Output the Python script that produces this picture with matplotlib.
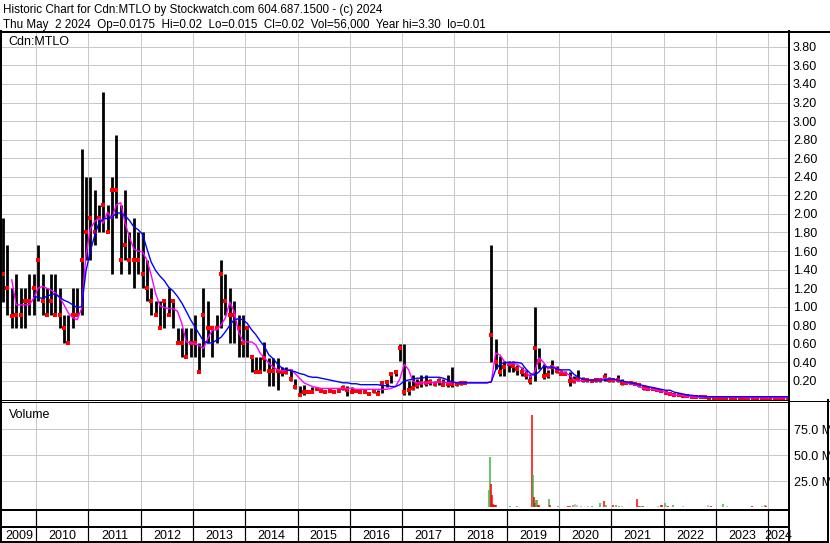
import numpy as np
import pandas as pd
import matplotlib
matplotlib.use("Agg")
import matplotlib.pyplot as plt
import matplotlib.dates as mdates
from matplotlib.lines import Line2D
from datetime import datetime

nan = np.nan

# monthly bars May 2009 .. May 2024, one row per calendar year
HIGH = [
    1.96, 1.66, 1.20, 1.35, 1.20, 1.20, 1.35, 1.35,
    1.66, 1.35, 1.20, 1.35, 1.35, 1.20, 0.91, 0.91, 1.20, 1.20, 2.70, 2.40,
    2.40, 2.26, 2.10, 3.31, 2.10, 2.40, 2.85, 2.10, 2.26, 1.81, 1.96, 1.81,
    1.81, 1.50, 1.20, 1.06, 1.06, 1.06, 1.20, 1.06, 0.77, 0.77, 0.77, 0.77,
    0.91, 0.61, 1.20, 1.06, 0.77, 0.91, 1.50, 1.35, 1.20, 1.06, 0.91, 0.91,
    0.77, 0.46, 0.46, 0.46, 0.62, 0.45, 0.45, 0.45, 0.35, 0.35, 0.33, 0.22,
    0.15, 0.16, 0.10, 0.13, 0.13, 0.12, 0.10, 0.11, 0.10, 0.10, 0.16, 0.15,
    0.14, 0.10, 0.10, 0.09, 0.08, 0.10, 0.10, 0.19, 0.20, 0.30, 0.32, 0.60,
    0.60, 0.20, 0.26, 0.22, 0.26, 0.26, 0.22, 0.20, 0.23, 0.22, 0.26, 0.35,
    0.19, 0.19, 0.19, nan, nan, nan, nan, nan, 1.67, 0.65, 0.47, 0.42,
    0.42, 0.42, 0.37, 0.35, 0.32, 0.27, 1.00, 0.55, 0.38, 0.32, 0.43, 0.36,
    0.32, 0.31, 0.30, 0.25, 0.32, 0.24, 0.23, 0.22, 0.22, 0.22, 0.29, 0.24,
    0.23, 0.26, 0.22, 0.20, 0.20, 0.19, 0.18, 0.16, 0.13, 0.13, 0.12, 0.11,
    0.09, 0.08, 0.06, 0.05, 0.05, 0.04, 0.04, 0.035, 0.03, 0.03, 0.03, 0.03,
    0.025, 0.03, 0.025, 0.025, 0.025, 0.03, 0.025, 0.025, 0.02, 0.025, 0.02, 0.025,
    0.035, 0.03, 0.025, 0.025, 0.02,
]
LOW = [
    1.05, 0.91, 0.77, 0.77, 0.77, 0.77, 0.91, 0.91,
    1.06, 0.91, 0.91, 0.91, 0.91, 0.77, 0.61, 0.61, 0.77, 0.91, 0.91, 1.50,
    1.50, 1.66, 1.81, 1.81, 1.81, 1.35, 1.96, 1.35, 1.50, 1.35, 1.20, 1.35,
    1.20, 1.06, 0.91, 0.91, 0.77, 0.77, 0.91, 0.77, 0.61, 0.46, 0.46, 0.46,
    0.46, 0.30, 0.46, 0.61, 0.46, 0.61, 0.77, 0.91, 0.61, 0.61, 0.46, 0.46,
    0.46, 0.30, 0.30, 0.30, 0.31, 0.15, 0.15, 0.10, 0.25, 0.28, 0.20, 0.11,
    0.04, 0.05, 0.07, 0.07, 0.10, 0.08, 0.07, 0.08, 0.08, 0.08, 0.10, 0.04,
    0.08, 0.08, 0.07, 0.07, 0.05, 0.07, 0.05, 0.07, 0.14, 0.18, 0.25, 0.42,
    0.05, 0.05, 0.10, 0.12, 0.14, 0.15, 0.16, 0.15, 0.16, 0.15, 0.14, 0.13,
    0.15, 0.16, 0.17, nan, nan, nan, nan, nan, 0.40, 0.33, 0.25, 0.25,
    0.30, 0.30, 0.26, 0.25, 0.22, 0.17, 0.20, 0.33, 0.22, 0.23, 0.28, 0.29,
    0.26, 0.26, 0.15, 0.18, 0.20, 0.19, 0.19, 0.19, 0.19, 0.19, 0.20, 0.19,
    0.19, 0.19, 0.16, 0.17, 0.17, 0.16, 0.14, 0.10, 0.10, 0.10, 0.09, 0.08,
    0.06, 0.06, 0.04, 0.04, 0.035, 0.03, 0.025, 0.025, 0.02, 0.02, 0.02, 0.015,
    0.015, 0.015, 0.015, 0.015, 0.015, 0.015, 0.015, 0.015, 0.015, 0.01, 0.01, 0.01,
    0.015, 0.015, 0.015, 0.015, 0.015,
]
CLOSE = [
    1.35, 1.20, 0.90, 0.91, 0.91, 1.06, 1.06, 1.20,
    1.50, 1.06, 0.91, 1.06, 0.91, 0.91, 0.77, 0.61, 0.91, 0.91, 1.50, 1.81,
    1.96, 1.81, 1.96, 2.10, 1.81, 2.26, 2.26, 1.50, 1.66, 1.50, 1.50, 1.50,
    1.35, 1.20, 1.06, 0.91, 0.77, 1.06, 0.91, 1.06, 0.61, 0.61, 0.46, 0.61,
    0.61, 0.30, 0.91, 0.77, 0.77, 0.77, 1.35, 1.06, 0.91, 0.91, 0.77, 0.61,
    0.77, 0.46, 0.30, 0.30, 0.45, 0.31, 0.31, 0.31, 0.30, 0.30, 0.22, 0.14,
    0.05, 0.08, 0.08, 0.08, 0.11, 0.09, 0.08, 0.09, 0.08, 0.09, 0.12, 0.10,
    0.08, 0.09, 0.08, 0.08, 0.06, 0.09, 0.06, 0.18, 0.19, 0.28, 0.30, 0.55,
    0.08, 0.10, 0.12, 0.16, 0.18, 0.18, 0.19, 0.17, 0.20, 0.16, 0.17, 0.17,
    0.17, 0.18, 0.18, nan, nan, nan, nan, nan, 0.70, 0.40, 0.30, 0.35,
    0.38, 0.36, 0.33, 0.30, 0.26, 0.20, 0.55, 0.42, 0.25, 0.26, 0.35, 0.31,
    0.28, 0.28, 0.20, 0.20, 0.22, 0.21, 0.21, 0.20, 0.21, 0.21, 0.24, 0.21,
    0.21, 0.21, 0.18, 0.18, 0.18, 0.17, 0.16, 0.12, 0.11, 0.11, 0.10, 0.09,
    0.07, 0.06, 0.05, 0.045, 0.04, 0.035, 0.03, 0.03, 0.025, 0.025, 0.02, 0.02,
    0.02, 0.02, 0.02, 0.02, 0.02, 0.02, 0.02, 0.02, 0.015, 0.015, 0.015, 0.015,
    0.02, 0.02, 0.02, 0.02, 0.02,
]
# short (magenta) and long (blue) moving averages, same months
MA_SHORT = [
    nan, nan, 1.29, 1.02, 1.02, 1.02, 1.02, 1.09,
    1.20, 1.22, 1.20, 1.18, 1.15, 1.10, 1.02, 0.93, 0.88, 0.86, 0.98, 1.55,
    1.84, 1.92, 1.95, 1.90, 2.02, 1.95, 2.10, 2.12, 1.90, 1.75, 1.62, 1.60,
    1.59, 1.50, 1.34, 1.14, 1.01, 0.99, 0.98, 0.98, 0.95, 0.82, 0.62, 0.61,
    0.60, 0.58, 0.55, 0.66, 0.75, 0.75, 0.80, 0.88, 1.05, 0.95, 0.73, 0.63,
    0.62, 0.62, 0.59, 0.50, 0.45, 0.39, 0.35, 0.32, 0.31, 0.32, 0.32, 0.28,
    0.23, 0.18, 0.16, 0.14, 0.13, 0.12, 0.12, 0.12, 0.12, 0.12, 0.12, 0.12,
    0.12, 0.11, 0.11, 0.11, 0.11, 0.11, 0.11, 0.11, 0.11, 0.12, 0.14, 0.22,
    0.38, 0.32, 0.20, 0.18, 0.18, 0.18, 0.19, 0.18, 0.19, 0.19, 0.18, 0.19,
    0.18, 0.18, 0.18, 0.18, 0.18, 0.18, 0.18, 0.18, 0.19, 0.50, 0.48, 0.41,
    0.38, 0.39, 0.38, 0.34, 0.30, 0.24, 0.30, 0.45, 0.40, 0.33, 0.36, 0.34,
    0.30, 0.29, 0.26, 0.21, 0.20, 0.21, 0.21, 0.21, 0.21, 0.21, 0.23, 0.22,
    0.21, 0.21, 0.20, 0.18, 0.17, 0.16, 0.14, 0.12, 0.11, 0.11, 0.10, 0.09,
    0.08, 0.06, 0.05, 0.045, 0.04, 0.035, 0.03, 0.025, 0.025, 0.025, 0.025, 0.025,
    0.025, 0.025, 0.025, 0.025, 0.025, 0.025, 0.025, 0.02, 0.02, 0.02, 0.02, 0.02,
    0.02, 0.02, 0.02, 0.02, 0.02,
]
MA_LONG = [
    nan, nan, nan, nan, nan, nan, nan, 1.11,
    1.10, 1.09, 1.11, 1.13, 1.14, 1.10, 1.07, 1.05, 1.02, 0.99, 1.00, 1.38,
    1.60, 1.77, 1.90, 1.95, 1.95, 1.96, 2.01, 2.01, 1.98, 1.93, 1.86, 1.83,
    1.78, 1.62, 1.48, 1.39, 1.33, 1.28, 1.21, 1.17, 1.11, 1.04, 0.95, 0.86,
    0.78, 0.70, 0.63, 0.61, 0.61, 0.64, 0.67, 0.73, 0.80, 0.86, 0.87, 0.86,
    0.82, 0.75, 0.70, 0.63, 0.57, 0.48, 0.44, 0.38, 0.34, 0.32, 0.31, 0.30,
    0.28, 0.27, 0.25, 0.24, 0.24, 0.23, 0.22, 0.21, 0.20, 0.19, 0.18, 0.18,
    0.17, 0.17, 0.16, 0.16, 0.16, 0.16, 0.16, 0.15, 0.15, 0.14, 0.14, 0.16,
    0.20, 0.21, 0.22, 0.23, 0.23, 0.24, 0.24, 0.24, 0.24, 0.23, 0.21, 0.19,
    0.18, 0.18, 0.18, 0.18, 0.18, 0.18, 0.18, 0.18, 0.19, 0.32, 0.38, 0.40,
    0.40, 0.40, 0.40, 0.39, 0.33, 0.28, 0.26, 0.30, 0.36, 0.35, 0.35, 0.33,
    0.32, 0.32, 0.32, 0.27, 0.24, 0.22, 0.21, 0.21, 0.21, 0.21, 0.21, 0.22,
    0.22, 0.21, 0.20, 0.19, 0.18, 0.17, 0.16, 0.15, 0.14, 0.13, 0.12, 0.11,
    0.10, 0.10, 0.08, 0.07, 0.06, 0.05, 0.045, 0.04, 0.035, 0.03, 0.03, 0.03,
    0.03, 0.03, 0.03, 0.03, 0.03, 0.03, 0.03, 0.03, 0.03, 0.03, 0.03, 0.03,
    0.03, 0.03, 0.03, 0.03, 0.03,
]

# weekly volume bars that are visible (millions of shares)
VOL_DATES = [
    "2018-09-01", "2018-09-08", "2018-09-15", "2018-09-22", "2018-09-29", "2018-10-06",
    "2018-10-13", "2018-10-20", "2019-01-22", "2019-03-14",
    "2019-06-29", "2019-07-06", "2019-07-13", "2019-07-20", "2019-07-27", "2019-08-03",
    "2019-08-10", "2019-08-17", "2019-10-26", "2019-11-02", "2019-12-24",
    "2020-03-07", "2020-03-18", "2020-04-10", "2020-04-25", "2020-05-08", "2020-06-03",
    "2020-07-20", "2020-08-15", "2020-10-12", "2020-11-13", "2020-11-25",
    "2021-01-15", "2021-01-30", "2021-02-20", "2021-03-14", "2021-06-27", "2021-07-13",
    "2021-07-28", "2021-08-10", "2021-11-25", "2021-12-10", "2021-12-20",
    "2022-01-12", "2022-01-20", "2022-02-01", "2022-03-10", "2022-05-18", "2022-11-08",
    "2022-11-25", "2023-02-20", "2023-03-22", "2023-09-07", "2023-11-16", "2023-12-10",
    "2023-12-18",
]
VOL_VALUES = [
    16.0, 47.8, 22.0, 11.5, 2.5, 2.0,
    2.0, 1.5, 0.6, 0.6,
    88.5, 30.8, 10.0, 4.0, 7.0, 6.7,
    2.0, 1.5, 7.7, 2.0, 0.6,
    1.0, 0.8, 1.5, 3.0, 1.8, 0.7,
    0.8, 0.8, 3.5, 5.8, 1.8,
    1.5, 1.5, 1.2, 0.6, 7.7, 1.2,
    1.2, 0.6, 1.2, 1.8, 2.0,
    3.5, 1.5, 1.2, 1.8, 0.8, 2.2,
    0.8, 2.6, 0.8, 1.2, 1.0, 2.2,
    0.8,
]
VOL_DIR = [
    "up", "up", "down", "down", "down", "down",
    "down", "down", "up", "up",
    "down", "up", "down", "down", "up", "up",
    "down", "down", "up", "down", "up",
    "down", "down", "up", "flat", "flat", "flat",
    "flat", "up", "up", "down", "up",
    "down", "up", "up", "flat", "down", "down",
    "up", "down", "flat", "down", "down",
    "up", "flat", "down", "up", "flat", "flat",
    "down", "up", "flat", "down", "flat", "up",
    "down",
]

YEARS = list(range(2009, 2025))
PRICE_TICKS = [0.20, 0.40, 0.60, 0.80, 1.00, 1.20, 1.40, 1.60, 1.80, 2.00,
               2.20, 2.40, 2.60, 2.80, 3.00, 3.20, 3.40, 3.60, 3.80]
VOL_TICKS = [25, 50, 75]

HEADER1 = "Historic Chart for Cdn:MTLO by Stockwatch.com 604.687.1500 - (c) 2024"
HEADER2 = "Thu May  2 2024  Op=0.0175  Hi=0.02  Lo=0.015  Cl=0.02  Vol=56,000  Year hi=3.30  lo=0.01"

plt.rcParams["font.family"] = "Liberation Sans"
plt.rcParams["font.size"] = 9

W, H = 830, 543
GRID = "#c8c8c8"
PX = 0.72  # one pixel in points at 100 dpi


def fx(x):
    return x / W


def fy(y):
    return 1 - y / H


months = pd.date_range("2009-05-01", periods=len(HIGH), freq="MS") + pd.Timedelta(days=14)
mx = mdates.date2num(months.to_pydatetime())
x0 = mdates.date2num(datetime(2009, 5, 8))
x1 = mdates.date2num(datetime(2024, 5, 18))
year_starts = [mdates.date2num(datetime(y, 1, 1)) for y in YEARS[1:]]

fig = plt.figure(figsize=(W / 100, H / 100), dpi=100)

# price pane
ax = fig.add_axes([fx(2), fy(400), 786 / W, 368 / H])
ax.vlines(mx, LOW, HIGH, color="black", lw=2.0)
ax.plot(mx, CLOSE, "s", color="red", ms=2.4, mew=0)
ax.plot(mx, MA_SHORT, color="#ff00ff", lw=1.0)
ax.plot(mx, MA_LONG, color="#0000ff", lw=1.0)
ax.set_xlim(x0, x1)
ax.set_ylim(-0.005, 3.96)
ax.set_yticks(PRICE_TICKS)
ax.set_yticklabels([f"{v:.2f}" for v in PRICE_TICKS])
ax.set_xticks(year_starts)
ax.set_xticklabels([])
ax.yaxis.tick_right()
ax.tick_params(length=0, pad=3.5, labelsize=9)
ax.grid(color=GRID, lw=PX)
ax.set_axisbelow(True)
for s in ax.spines.values():
    s.set_visible(False)
fig.text(fx(8), fy(45), "Cdn:MTLO", fontsize=9, va="baseline")

# volume pane
vax = fig.add_axes([fx(2), fy(509), 786 / W, 107 / H])
vd = mdates.date2num(pd.to_datetime(VOL_DATES).to_pydatetime())
cmap = {"up": "#44b444", "down": "#ff0000", "flat": "#b4b4b4"}
vax.vlines(vd, 0, VOL_VALUES, colors=[cmap[d] for d in VOL_DIR], lw=1.1)
vax.set_xlim(x0, x1)
vax.set_ylim(-1.9, 101)
vax.set_yticks(VOL_TICKS)
vax.set_yticklabels([f"{v:.1f} M" for v in VOL_TICKS])
vax.set_xticks(year_starts)
vax.set_xticklabels([])
vax.yaxis.tick_right()
vax.tick_params(length=0, pad=4, labelsize=9)
vax.grid(color=GRID, lw=PX)
vax.set_axisbelow(True)
for s in vax.spines.values():
    s.set_visible(False)
fig.text(fx(9), fy(418), "Volume", fontsize=9, va="baseline")

# date strip
dax = fig.add_axes([fx(2), fy(542), 786 / W, 33 / H])
dax.set_xlim(x0, x1)
dax.set_ylim(0, 33)
dax.vlines(year_starts, 0, 33, color="black", lw=PX * 1.2)
for y in YEARS:
    a = max(mdates.date2num(datetime(y, 1, 1)), x0)
    b = min(mdates.date2num(datetime(y + 1, 1, 1)), x1)
    dax.text((a + b) / 2, 3.2, str(y), ha="center", va="baseline", fontsize=9, clip_on=False)
dax.axis("off")

# header
fig.text(fx(3), fy(12.5), HEADER1, fontsize=8.4, va="baseline")
fig.text(fx(3), fy(28.3), HEADER2, fontsize=8.4, va="baseline")


def hline(y, a, b, lw=1.0):
    fig.add_artist(Line2D([fx(a), fx(b)], [fy(y), fy(y)], color="black", lw=lw * PX))


def vline(x, a, b, lw=1.0):
    fig.add_artist(Line2D([fx(x), fx(x)], [fy(a), fy(b)], color="black", lw=lw * PX))


hline(31.5, 0, 830, 2)
vline(1, 31, 543, 2)
vline(789, 31, 542, 2)
hline(399.5, 0, 789, 1)
hline(401.5, 0, 789, 1)
hline(400.5, 789, 830, 1)
hline(509.5, 0, 789, 2)
hline(527, 0, 789, 2)
hline(541.5, 0, 828, 2)
vline(827.5, 400, 542, 2)

fig.savefig("out.png", dpi=100)
